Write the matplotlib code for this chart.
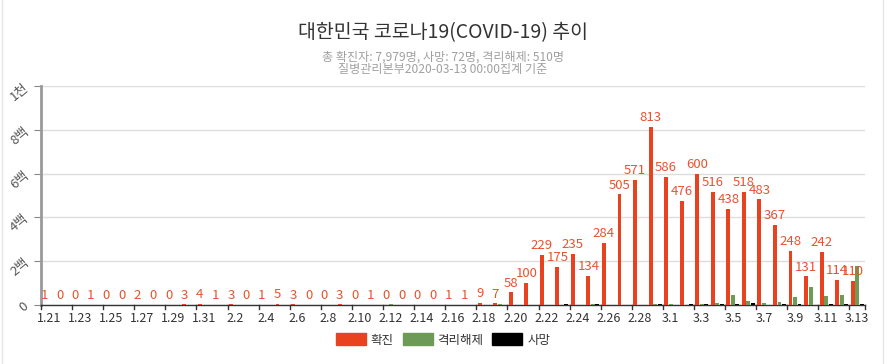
import numpy as np
import matplotlib.pyplot as plt
from matplotlib.patches import Patch
from matplotlib.lines import Line2D

plt.rcParams['font.family'] = ['Noto Sans CJK KR', 'DejaVu Sans']

# Daily data, 2020-01-21 ~ 2020-03-13
dates = (["1.%d" % d for d in range(21, 32)] +
         ["2.%d" % d for d in range(1, 30)] +
         ["3.%d" % d for d in range(1, 14)])

confirmed = [1, 0, 0, 1, 0, 0, 2, 0, 0, 3, 4,
             1, 3, 0, 1, 5, 3, 0, 0, 3, 0, 1, 0, 0, 0, 0, 1, 1, 9, 7,
             58, 100, 229, 175, 235, 134, 284, 505, 571, 813,
             586, 476, 600, 516, 438, 518, 483, 367, 248, 131, 242, 114, 110]

released = [0, 0, 0, 0, 0, 0, 0, 0, 0, 0, 0,
            0, 0, 0, 0, 1, 1, 0, 0, 1, 1, 0, 3, 1, 0, 0, 1, 2, 0, 4,
            1, 0, 0, 2, 0, 4, 0, 0, 0, 5,
            3, 0, 4, 7, 47, 20, 10, 12, 36, 81, 41, 45, 177]

deaths = [0, 0, 0, 0, 0, 0, 0, 0, 0, 0, 0,
          0, 0, 0, 0, 0, 0, 0, 0, 0, 0, 0, 0, 0, 0, 0, 0, 0, 0, 0,
          1, 1, 0, 3, 2, 3, 1, 1, 1, 3,
          1, 5, 6, 4, 3, 7, 2, 6, 3, 1, 6, 6, 6]

series_names = ["확진", "격리해제", "사망"]
colors = ["#e8431e", "#6d9a57", "#000000"]

y_ticks = [0, 200, 400, 600, 800, 1000]
y_labels = ["0", "2백", "4백", "6백", "8백", "1천"]

fig = plt.figure(figsize=(8.89, 3.64), dpi=100)
ax = fig.add_axes([41 / 889, 59 / 364, 824 / 889, 219 / 364])

x = np.arange(len(dates))
w = 0.25
ax.bar(x - 0.29, confirmed, w, color=colors[0], zorder=3)
ax.bar(x, released, w, color=colors[1], zorder=3)
ax.bar(x + 0.29, deaths, w, color=colors[2], zorder=3)

for xi, v in zip(x, confirmed):
    ax.text(xi - 0.29, v + 12, str(v), ha='center', va='bottom',
            fontsize=9.5, color='#e8532f', zorder=4)

ax.set_xlim(-0.5, len(dates) - 0.5)
ax.set_ylim(0, 1000)
ax.set_yticks(y_ticks)
ax.set_yticklabels(y_labels, rotation=40, fontsize=9.5, color='#555555')
ax.grid(axis='y', color='#dddddd', linewidth=1, zorder=0)

ax.set_xticks(x[::2])
ax.set_xticklabels(dates[::2], fontsize=9, color='#333333')
ax.tick_params(axis='x', length=0, pad=5)
ax.tick_params(axis='y', length=5, color='#888888', pad=2)
# boundary ticks every two categories
for b in list(np.arange(-0.5, len(dates) - 0.5, 2)) + [len(dates) - 0.5]:
    ax.plot([b, b], [0, -16], color='#333333', linewidth=1,
            clip_on=False, zorder=5)

for s in ['top', 'right']:
    ax.spines[s].set_visible(False)
ax.spines['left'].set_color('#999999')
ax.spines['left'].set_linewidth(2)
ax.spines['bottom'].set_color('#333333')
ax.spines['bottom'].set_linewidth(1)

fig.text(443 / 889, 1 - 33 / 364, "대한민국 코로나19(COVID-19) 추이",
         ha='center', va='center', fontsize=14, color='#333333')
fig.text(443 / 889, 1 - 57 / 364,
         "총 확진자: 7,979명, 사망: 72명, 격리해제: 510명",
         ha='center', va='center', fontsize=8.7, color='#a0a0a0')
fig.text(443 / 889, 1 - 69 / 364, "질병관리본부2020-03-13 00:00집계 기준",
         ha='center', va='center', fontsize=8.7, color='#a0a0a0')

handles = [Patch(facecolor=c, edgecolor=c) for c in colors]
fig.legend(handles, series_names, loc='center', bbox_to_anchor=(443 / 889, 1 - 340 / 364),
           ncol=3, frameon=False, fontsize=9, handlelength=2.4, handleheight=1.1,
           columnspacing=0.7, handletextpad=0.4, labelcolor='#333333')

# card border
fig.add_artist(Line2D([2 / 889, 2 / 889], [0, 1], color='#e6e6e6', linewidth=1))
fig.add_artist(Line2D([883 / 889, 883 / 889], [0, 1], color='#e6e6e6', linewidth=1))

fig.savefig('out.png', dpi=100)
